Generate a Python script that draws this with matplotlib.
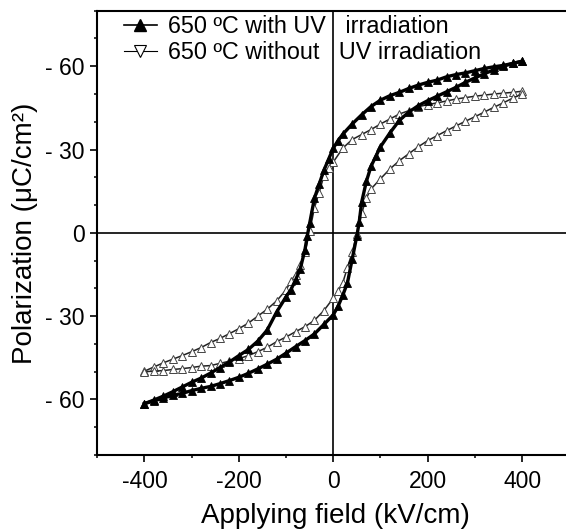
import matplotlib
matplotlib.use("Agg")
import matplotlib.pyplot as plt
from matplotlib.lines import Line2D
from matplotlib.ticker import MultipleLocator, FixedLocator, FixedFormatter

plt.rcParams['font.family'] = ['Liberation Sans', 'DejaVu Sans']

# ---------------- data ----------------
# with UV irradiation: descending branch (E from +400 to -400)
uv_down_E = [400, 380, 360, 340, 320, 300, 280, 260, 240, 220, 200, 180, 160, 140, 120, 100,
             80, 60, 40, 20, 10, 0, -10, -20, -30, -40, -50, -55, -60, -70, -80, -90, -100,
             -120, -140, -160, -180, -200, -220, -240, -260, -280, -300, -320, -340, -360, -380, -400]
uv_down_P = [61.8, 61.0, 60.3, 59.8, 59.2, 58.4, 57.6, 57.0, 56.2, 55.0, 54.2, 53.2, 52.0, 50.6, 49.4, 47.8,
             45.5, 42.5, 39.2, 35.5, 33.2, 30.5, 26.5, 22.5, 17.5, 12.5, 3.5, -1.0, -6.0, -13.0, -17.0, -20.5, -23.0,
             -28.5, -35.0, -39.0, -42.0, -44.2, -46.5, -48.5, -50.5, -52.3, -53.8, -55.5, -57.2, -58.8, -60.2, -61.5]
# with UV irradiation: ascending branch (E from -400 to +400)
uv_up_E = [-400, -380, -360, -340, -320, -300, -280, -260, -240, -220, -200, -180, -160, -140, -120, -100,
           -80, -60, -40, -20, 0, 10, 20, 30, 40, 50, 55, 60, 70, 80, 90, 100,
           120, 140, 160, 180, 200, 220, 240, 260, 280, 300, 320, 340, 360, 380, 400]
uv_up_P = [-61.5, -60.5, -59.5, -58.5, -57.8, -56.8, -56.0, -55.3, -54.3, -53.2, -52.0, -50.6, -49.0, -47.3, -45.5, -43.3,
           -41.0, -38.8, -36.4, -33.0, -29.5, -26.5, -22.5, -18.0, -9.5, -1.0, 4.0, 11.0, 18.5, 24.0, 27.5, 31.0,
           36.0, 40.5, 43.5, 45.8, 47.6, 49.2, 50.8, 52.4, 54.2, 55.8, 57.3, 58.7, 60.0, 61.0, 61.8]
# without UV irradiation: descending branch
nouv_down_E = [400, 380, 360, 340, 320, 300, 280, 260, 240, 220, 200, 180, 160, 140, 120, 100,
               80, 60, 40, 20, 0, -10, -20, -30, -40, -50, -60, -70, -80, -90, -100,
               -120, -140, -160, -180, -200, -220, -240, -260, -280, -300, -320, -340, -360, -380, -400]
nouv_down_P = [51.0, 50.6, 50.3, 50.0, 49.6, 49.2, 48.7, 48.2, 47.5, 46.8, 46.2, 45.4, 44.0, 42.8, 41.0, 39.2,
               37.2, 35.4, 33.6, 30.5, 25.5, 23.5, 20.5, 14.5, 9.0, 0.5, -7.0, -11.5, -15.0, -17.5, -20.5,
               -24.5, -27.5, -30.0, -32.5, -34.5, -36.3, -38.0, -39.5, -41.3, -42.8, -44.2, -45.5, -46.8, -48.3, -49.8]
# without UV irradiation: ascending branch
nouv_up_E = [-400, -380, -360, -340, -320, -300, -280, -260, -240, -220, -200, -180, -160, -140, -120, -100,
             -80, -60, -40, -20, 0, 10, 20, 30, 40, 50, 60, 70, 80, 100,
             120, 140, 160, 180, 200, 220, 240, 260, 280, 300, 320, 340, 360, 380, 400]
nouv_up_P = [-50.0, -49.8, -49.6, -49.2, -48.9, -48.5, -48.0, -47.8, -47.0, -46.2, -45.3, -44.2, -42.8, -41.2, -39.2, -37.5,
             -35.6, -33.8, -31.5, -28.0, -23.5, -21.0, -18.0, -12.5, -7.0, -0.5, 7.0, 12.5, 15.8, 19.5,
             23.0, 26.0, 28.5, 31.0, 33.2, 35.0, 36.8, 38.5, 40.2, 41.8, 43.5, 45.2, 46.8, 48.5, 50.0]

labels = ['650 ºC with UV   irradiation', '650 ºC without   UV irradiation']
x_ticks = [-400, -200, 0, 200, 400]
x_ticklabels = ['-400', '-200', '0', '200', '400']
y_ticks = [-60, -30, 0, 30, 60]
y_ticklabels = ['- 60', '- 30', '0', '- 30', '- 60']

# ---------------- figure ----------------
fig = plt.figure(figsize=(5.66, 5.30), dpi=100)
ax = fig.add_axes([97.3 / 566, 1 - 455 / 530, 472 / 566, 444.3 / 530])

ax.axhline(0, color='black', lw=1.2, zorder=1)
ax.axvline(0, color='black', lw=1.2, zorder=1)

filled_kw = dict(color='black', lw=2.4, marker='^', ms=5.2, mfc='black', mec='black', mew=0.6)
open_kw = dict(color='#222222', lw=1.1, marker='^', ms=5.2, mfc='white', mec='#444444', mew=0.7)

ax.plot(nouv_down_E, nouv_down_P, zorder=2, **open_kw)
ax.plot(nouv_up_E, nouv_up_P, zorder=2, **open_kw)
ax.plot(uv_down_E, uv_down_P, zorder=3, **filled_kw)
ax.plot(uv_up_E, uv_up_P, zorder=3, **filled_kw)

ax.set_xlim(-500, 500)
ax.set_ylim(-80, 80)

ax.xaxis.set_major_locator(FixedLocator(x_ticks))
ax.xaxis.set_major_formatter(FixedFormatter(x_ticklabels))
ax.xaxis.set_minor_locator(MultipleLocator(100))
ax.yaxis.set_major_locator(FixedLocator(y_ticks))
ax.yaxis.set_major_formatter(FixedFormatter(y_ticklabels))
ax.yaxis.set_minor_locator(MultipleLocator(10))

ax.tick_params(which='major', direction='out', length=5, width=1.2, labelsize=16.5, pad=4)
ax.tick_params(axis='x', which='major', pad=6)
ax.tick_params(which='minor', direction='out', length=2.5, width=1.1)
ax.tick_params(top=False, right=False, which='both')
for s in ax.spines.values():
    s.set_linewidth(1.5)

ax.set_xlabel('Applying field (kV/cm)', fontsize=20)
ax.xaxis.set_label_coords(0.5036, -0.108)
ax.xaxis.label.set_va('top')
ax.set_ylabel('Polarization (μC/cm²)', fontsize=20)
ax.yaxis.set_label_coords(-0.125, 0.5)

handles = [Line2D([], [], color='black', lw=1.2, marker='^', ms=9, mfc='black', mec='black'),
           Line2D([], [], color='black', lw=0.8, marker='v', ms=9, mfc='white', mec='black', mew=0.8)]
ax.legend(handles, labels, loc='upper left', bbox_to_anchor=(124 / 566, 1 - 15 / 530),
          bbox_transform=fig.transFigure, frameon=False, fontsize=16.8, handlelength=1.4,
          handletextpad=0.5, labelspacing=0.12, borderpad=0, borderaxespad=0)

fig.savefig('out.png', dpi=100)
